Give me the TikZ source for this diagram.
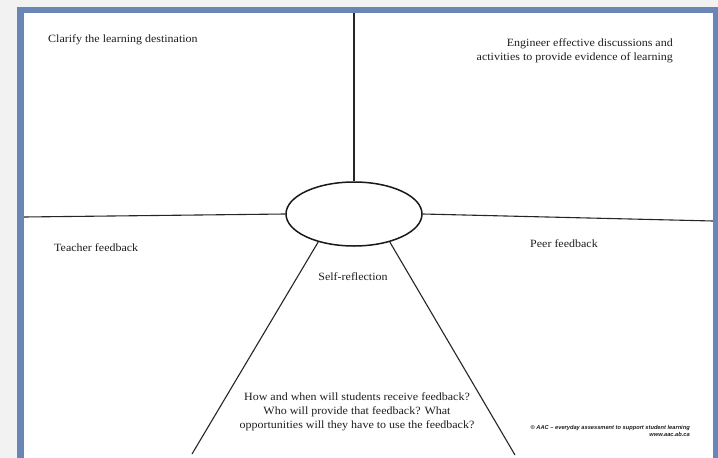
\documentclass[tikz,border=0pt]{standalone}
\usepackage{fontspec}
\setmainfont[FakeStretch=1.08]{Liberation Serif}
\newfontfamily\smallsans{Liberation Sans}
\usetikzlibrary{shapes.geometric}
\definecolor{frameblue}{RGB}{106,134,182}
\definecolor{outsidegrey}{RGB}{242,242,242}
\definecolor{inktext}{RGB}{30,30,30}
\tikzset{
  lbl/.style={inner sep=0pt, text=inktext, font=\fontsize{11.1}{13.8}\selectfont},
  spoke/.style={draw=black!85, line width=1.1pt},
  hubshape/.style={ellipse, draw=black!90, line width=1.5pt, minimum width=136pt, minimum height=64pt, inner sep=0pt},
  credit/.style={inner sep=0pt, text=inktext, font=\smallsans\bfseries\itshape\fontsize{5.7}{6.5}\selectfont, align=right}
}
\begin{document}
\begin{tikzpicture}[x=1pt,y=-1pt]
\useasboundingbox (0,0) rectangle (718,458);
\fill[outsidegrey] (0,0) rectangle (718,458);
\fill[frameblue] (17,7) rectangle (718,458);
\fill[white] (24,13) rectangle (713,458);
\node[hubshape] (hub) at (354,214) {};
\coordinate (topend) at (354,13);
\coordinate (leftend) at (24,217);
\coordinate (rightend) at (713,221);
\coordinate (blend) at (192,454);
\coordinate (brend) at (515,455);
\draw[spoke] (topend) -- (hub.north);
\draw[spoke] (leftend) -- (hub.west);
\draw[spoke] (rightend) -- (hub.east);
\draw[spoke] (blend) -- (hub.218);
\draw[spoke] (brend) -- (hub.-38);
\node[lbl, anchor=base west] (clarify) at (48,42) {Clarify the learning destination};
\node[lbl, anchor=base east, align=right] (engineer) at (673,60) {Engineer effective discussions and\\activities to provide evidence of learning};
\node[lbl, anchor=base west] (teacher) at (54,251) {Teacher feedback};
\node[lbl, anchor=base west] (peer) at (530,247) {Peer feedback};
\node[lbl, anchor=base] (self) at (353,280) {Self-reflection};
\node[lbl, anchor=base, align=center] (question) at (357,428) {How and when will students receive feedback?\\Who will provide that feedback? What\\opportunities will they have to use the feedback?};
\node[credit, anchor=base east] (credittext) at (690,436) {© AAC – everyday assessment to support student learning\\www.aac.ab.ca};
\end{tikzpicture}
\end{document}
